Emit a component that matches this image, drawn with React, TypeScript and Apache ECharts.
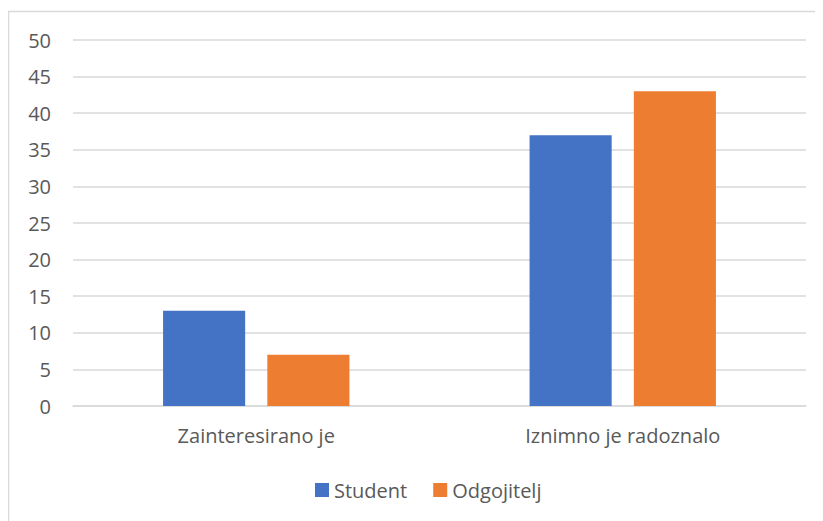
import React, { useEffect, useRef } from "react";
import * as echarts from "echarts";

const categories = ["Zainteresirano je", "Iznimno je radoznalo"];
const studentValues = [13, 37];
const odgojiteljValues = [7, 43];
const seriesNames = ["Student", "Odgojitelj"];

const FONT = "'Open Sans', 'Noto Sans', sans-serif";
const TEXT = "#595959";

export default function App() {
  const ref = useRef<HTMLDivElement>(null);
  useEffect(() => {
    if (!ref.current) return;
    const chart = echarts.init(ref.current, undefined, { renderer: "svg" });
    chart.setOption({
      animation: false,
      backgroundColor: "#ffffff",
      textStyle: { fontFamily: FONT },
      graphic: [
        {
          type: "rect",
          shape: { x: 0.5, y: 3.5, width: 900, height: 600 },
          style: { fill: "none", stroke: "#d9d9d9", lineWidth: 1.5 },
          silent: true,
        },
      ],
      grid: { left: 65, right: 17, top: 32, bottom: 115, containLabel: false },
      legend: {
        data: seriesNames,
        bottom: 16,
        left: 302,
        itemWidth: 14,
        itemHeight: 14,
        itemGap: 26,
        icon: "rect",
        textStyle: { color: TEXT, fontSize: 20, fontFamily: FONT },
      },
      xAxis: {
        type: "category",
        data: categories,
        axisLine: { show: true, lineStyle: { color: "#d9d9d9", width: 1.5 } },
        axisTick: { show: false },
        axisLabel: { color: TEXT, fontSize: 20, margin: 19, fontFamily: FONT },
      },
      yAxis: {
        type: "value",
        min: 0,
        max: 50,
        interval: 5,
        axisLine: { show: false },
        axisTick: { show: false },
        axisLabel: { color: TEXT, fontSize: 20, margin: 22, fontFamily: FONT },
        splitLine: { lineStyle: { color: "#d9d9d9", width: 1.5 } },
      },
      series: [
        {
          name: seriesNames[0],
          type: "bar",
          data: studentValues,
          barWidth: "22.4%",
          barGap: "27%",
          itemStyle: { color: "#4472C4" },
        },
        {
          name: seriesNames[1],
          type: "bar",
          data: odgojiteljValues,
          barWidth: "22.4%",
          barGap: "27%",
          itemStyle: { color: "#ED7D31" },
        },
      ],
    });
    return () => chart.dispose();
  }, []);
  return <div ref={ref} style={{ width: 815, height: 513, overflow: "hidden" }} />;
}
